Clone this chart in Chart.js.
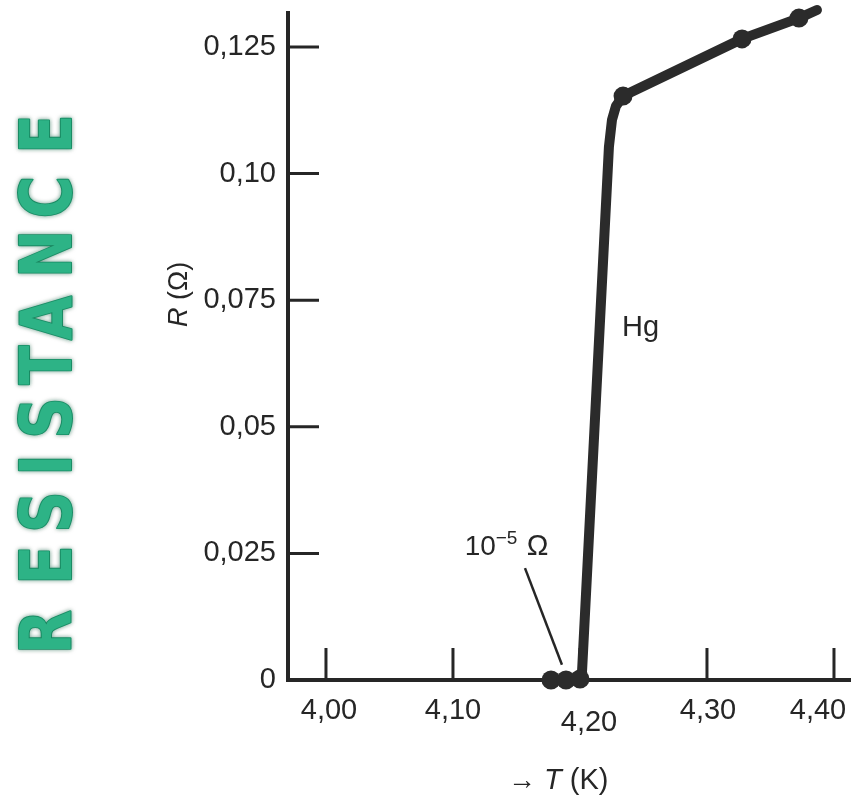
<!DOCTYPE html>
<html>
<head>
<meta charset="utf-8">
<script src="https://cdn.jsdelivr.net/npm/chart.js@4.4.1/dist/chart.umd.min.js"></script>
<style>
  html, body { margin: 0; padding: 0; background: #fff; }
  #wrap { width: 851px; height: 802px; }
</style>
</head>
<body>
<div id="wrap"><canvas id="hgChart"></canvas></div>
<script>
// Hg resistance near the superconducting transition
const temps      = [4.1772, 4.189, 4.200, 4.2016, 4.2228, 4.2252, 4.2283, 4.2339, 4.3276, 4.3724, 4.3866];
const resistance = [0, 0, 0.0002, 0.0016, 0.1053, 0.1106, 0.1133, 0.1153, 0.1266, 0.1307, 0.1323];
const measured   = [1, 1, 1, 0, 0, 0, 0, 1, 1, 1, 0];

const xTicks = [4.0, 4.1, 4.2, 4.3, 4.4];
const xTickLabels = ['4,00', '4,10', '4,20', '4,30', '4,40'];
const yTicks = [0, 0.025, 0.05, 0.075, 0.1, 0.125];
const yTickLabels = ['0', '0,025', '0,05', '0,075', '0,10', '0,125'];

const ink = '#262626';
const FONT = '"Liberation Sans", Arial, sans-serif';

// tick marks point into the plot, like the original drawing
const innerTicks = {
  id: 'innerTicks',
  beforeDatasetsDraw(chart) {
    const {ctx, chartArea: a, scales: {x, y}} = chart;
    ctx.save();
    ctx.strokeStyle = ink;
    ctx.lineWidth = 3;
    ctx.beginPath();
    xTicks.forEach(v => {
      const px = x.getPixelForValue(v);
      ctx.moveTo(px, a.bottom);
      ctx.lineTo(px, a.bottom - 32);
    });
    yTicks.slice(1).forEach(v => {
      const py = y.getPixelForValue(v);
      ctx.moveTo(a.left, py);
      ctx.lineTo(a.left + 31, py);
    });
    ctx.stroke();
    ctx.restore();
  }
};

const labels = {
  id: 'labels',
  afterDraw(chart) {
    const {ctx, chartArea: a, scales: {x, y}} = chart;
    ctx.save();
    ctx.fillStyle = ink;

    // x tick labels, hand placed a little off their ticks as in the print
    const dx = [3, 0, 9, 1, -16];
    const dy = [0, 0, 12, 0, 0];
    ctx.font = '29px ' + FONT;
    ctx.textAlign = 'center';
    ctx.textBaseline = 'middle';
    xTicks.forEach((v, i) => {
      ctx.fillText(xTickLabels[i], x.getPixelForValue(v) + dx[i], a.bottom + 31 + dy[i]);
    });

    ctx.textBaseline = 'alphabetic';
    ctx.textAlign = 'left';

    // y axis title, R in italics
    ctx.save();
    ctx.translate(187, 327);
    ctx.rotate(-Math.PI / 2);
    ctx.font = 'italic 27px ' + FONT;
    ctx.fillText('R', 0, 0);
    const rw = ctx.measureText('R').width;
    ctx.font = '27px ' + FONT;
    ctx.fillText(' (Ω)', rw, 0);
    ctx.restore();

    // x axis title
    ctx.font = '28px ' + FONT;
    ctx.fillText('→', 508, 789);
    ctx.font = 'italic 29px ' + FONT;
    ctx.fillText('T', 544, 789);
    const tw = ctx.measureText('T').width;
    ctx.font = '29px ' + FONT;
    ctx.fillText(' (K)', 544 + tw, 789);

    // curve label
    ctx.font = '29px ' + FONT;
    ctx.fillText('Hg', x.getPixelForValue(4.2331), y.getPixelForValue(0.0679));

    // 10^-5 ohm note with leader line
    const nx = x.getPixelForValue(4.1092), ny = y.getPixelForValue(0.0247);
    ctx.font = '28px ' + FONT;
    ctx.fillText('10', nx, ny);
    ctx.font = '19px ' + FONT;
    ctx.fillText('−5', nx + 31, ny - 11);
    ctx.font = '29px ' + FONT;
    ctx.fillText('Ω', nx + 62, ny);
    ctx.strokeStyle = ink;
    ctx.lineWidth = 2.5;
    ctx.beginPath();
    ctx.moveTo(x.getPixelForValue(4.1567), y.getPixelForValue(0.0221));
    ctx.lineTo(x.getPixelForValue(4.1858), y.getPixelForValue(0.0030));
    ctx.stroke();

    // big green side word, reading bottom to top
    const word = 'RESISTANCE';
    const centres = [632, 565, 512, 465, 418, 365, 318, 254, 197, 134];
    ctx.font = 'bold 72px "DejaVu Sans", sans-serif';
    ctx.textAlign = 'center';
    ctx.textBaseline = 'middle';
    ctx.lineJoin = 'round';
    word.split('').forEach((ch, i) => {
      ctx.save();
      ctx.translate(49, centres[i]);
      ctx.rotate(-Math.PI / 2);
      ctx.scale(0.8, 1);
      ctx.shadowColor = 'rgba(10,90,60,0.5)';
      ctx.shadowBlur = 4;
      ctx.strokeStyle = '#1f9a70';
      ctx.lineWidth = 2;
      ctx.strokeText(ch, 0, 3);
      ctx.fillStyle = '#2db386';
      ctx.fillText(ch, 0, 3);
      ctx.restore();
    });
    ctx.restore();
  }
};

const chart = new Chart(document.getElementById('hgChart'), {
  type: 'line',
  data: {
    datasets: [{
      label: 'Hg',
      data: temps.map((t, i) => ({x: t, y: resistance[i]})),
      borderColor: '#2b2b2b',
      backgroundColor: '#2b2b2b',
      borderWidth: 10,
      borderJoinStyle: 'round',
      borderCapStyle: 'round',
      tension: 0,
      pointRadius: ctx => measured[ctx.dataIndex] ? 9.5 : 0,
      pointBorderWidth: 0,
      pointHoverRadius: 0,
      clip: false
    }]
  },
  plugins: [innerTicks, labels],
  options: {
    responsive: true,
    maintainAspectRatio: false,
    animation: false,
    events: [],
    layout: { autoPadding: false, padding: { top: 13, left: 0, right: 0, bottom: 0 } },
    plugins: { legend: { display: false }, tooltip: { enabled: false } },
    scales: {
      x: {
        type: 'linear',
        min: 3.9701,
        max: 4.4134,
        afterBuildTicks: s => { s.ticks = xTicks.map(v => ({value: v})); },
        afterFit: s => { s.height = 122; s.paddingLeft = 0; s.paddingRight = 0; },
        grid: { display: false, drawTicks: false },
        border: { display: true, color: ink, width: 4 },
        ticks: { display: false }
      },
      y: {
        type: 'linear',
        min: 0,
        max: 0.13171,
        afterBuildTicks: s => { s.ticks = yTicks.map(v => ({value: v})); },
        afterFit: s => { s.width = 288; s.paddingTop = 0; s.paddingBottom = 0; },
        grid: { display: false, drawTicks: false },
        border: { display: true, color: ink, width: 4 },
        ticks: {
          color: ink,
          padding: 12,
          autoSkip: false,
          font: { family: FONT, size: 29 },
          callback: (v, i) => yTickLabels[i]
        }
      }
    }
  }
});
</script>
</body>
</html>
